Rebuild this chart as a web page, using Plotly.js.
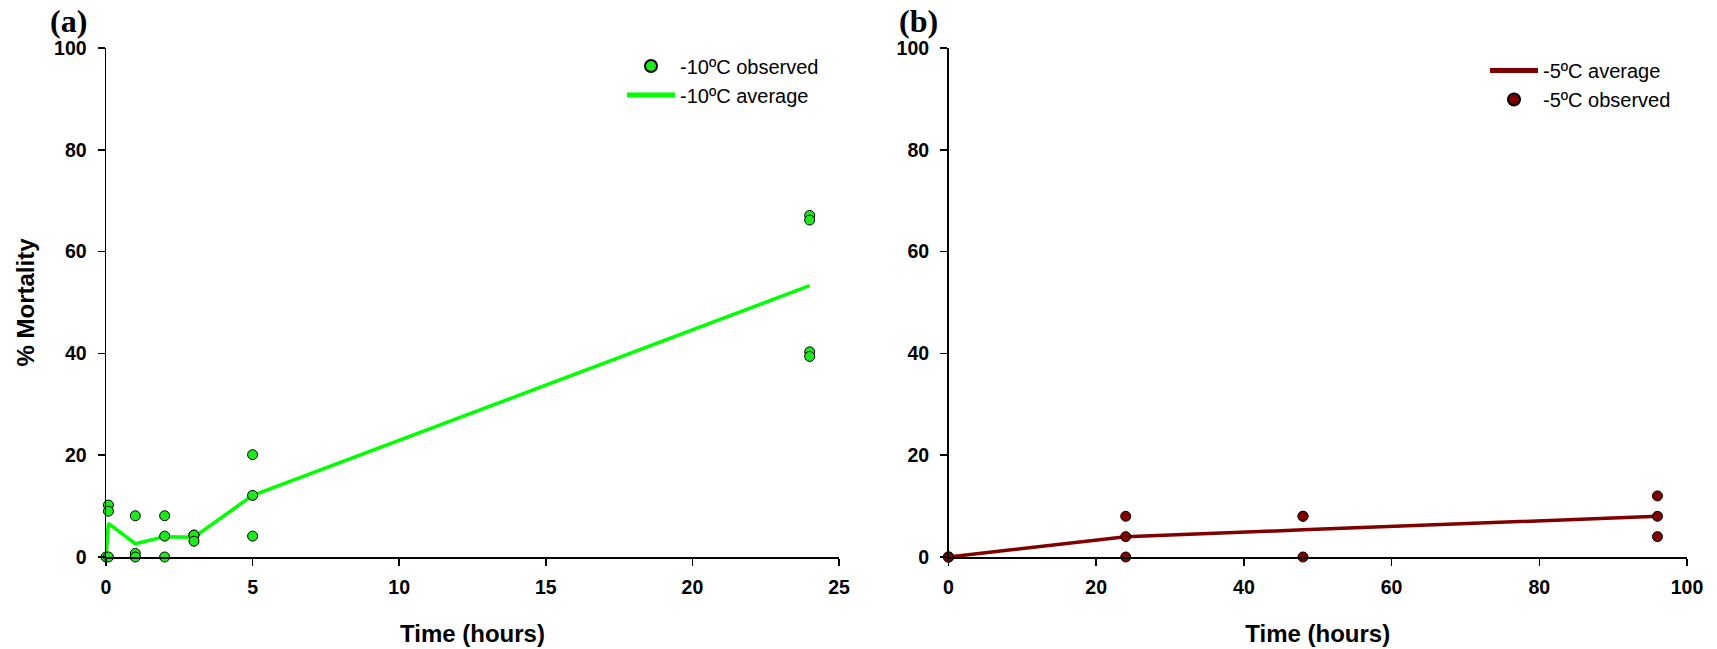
<!DOCTYPE html>
<html>
<head>
<meta charset="utf-8">
<script src="https://cdn.plot.ly/plotly-3.0.1.min.js"></script>
<style>html,body{margin:0;padding:0;background:#fff;}#chart{width:1717px;height:649px;}</style>
</head>
<body>
<div id="chart"></div>
<script>
// Panel (a): -10ºC
const timeA_observed = [0, 0.083, 0.083, 0.083, 1, 1, 1, 2, 2, 2, 3, 3, 3, 5, 5, 5, 24, 24, 24, 24];
const mortA_observed = [0, 0, 10.2, 9.0, 8.1, 0.7, 0, 8.1, 4.1, 0, 4.3, 4.3, 3.1, 20.1, 12.1, 4.1, 67.1, 66.2, 40.3, 39.4];
const timeA_average = [0, 0.083, 1, 2, 3, 5, 24];
const mortA_average = [0, 6.6, 2.6, 4.0, 3.9, 12.1, 53.3];
// Panel (b): -5ºC
const timeB_observed = [0, 0, 0, 24, 24, 24, 48, 48, 48, 96, 96, 96];
const mortB_observed = [0, 0, 0, 8, 4, 0, 8, 8, 0, 12, 8, 4];
const timeB_average = [0, 24, 48, 96];
const mortB_average = [0, 4, 5.33, 8];

const xTicksA = [0, 5, 10, 15, 20, 25];
const xTicksB = [0, 20, 40, 60, 80, 100];
const yTicks = [0, 20, 40, 60, 80, 100];

const GREEN_LINE = '#00ff00';
const GREEN_MARK = '#1ee81e';
const RED = '#800000';
const FONT = 'Arial, "Liberation Sans", sans-serif';
const SERIF = '"Liberation Serif", "Times New Roman", serif';

const traces = [
  {x: timeA_average, y: mortA_average, type: 'scatter', mode: 'lines', name: '-10ºC average',
   line: {color: GREEN_LINE, width: 3.5}, xaxis: 'x', yaxis: 'y', legend: 'legend', legendrank: 2, cliponaxis: false},
  {x: timeA_observed, y: mortA_observed, type: 'scatter', mode: 'markers', name: '-10ºC observed',
   marker: {color: GREEN_MARK, size: 10, line: {color: '#000', width: 1}}, xaxis: 'x', yaxis: 'y', legend: 'legend', legendrank: 1, cliponaxis: false},
  {x: timeB_average, y: mortB_average, type: 'scatter', mode: 'lines', name: '-5ºC average',
   line: {color: RED, width: 3.5}, xaxis: 'x2', yaxis: 'y2', legend: 'legend2', legendrank: 1, cliponaxis: false},
  {x: timeB_observed, y: mortB_observed, type: 'scatter', mode: 'markers', name: '-5ºC observed',
   marker: {color: RED, size: 10, line: {color: '#000', width: 1}}, xaxis: 'x2', yaxis: 'y2', legend: 'legend2', legendrank: 2, cliponaxis: false}
];

const tickFont = {family: FONT, size: 19.5, color: '#000', weight: 'bold'};
const titleFont = {family: FONT, size: 24, color: '#000', weight: 'bold'};

function xAxis(domain, ticks, range) {
  return {domain: domain, range: range, tickvals: ticks, ticktext: ticks.map(String),
    showline: true, linecolor: '#000', linewidth: 1.5, ticks: 'outside', ticklen: 7, tickwidth: 1.5, tickcolor: '#000',
    showgrid: false, zeroline: false, tickfont: tickFont, ticklabelstandoff: 5,
    title: {text: 'Time (hours)', font: titleFont, standoff: 28}, automargin: false, fixedrange: true};
}
function yAxis(domain, anchor, withTitle) {
  return {domain: domain, anchor: anchor, range: [0, 100], tickvals: yTicks, ticktext: yTicks.map(String),
    showline: true, linecolor: '#000', linewidth: 1.5, ticks: 'outside', ticklen: 7, tickwidth: 1.5, tickcolor: '#000',
    showgrid: false, zeroline: false, tickfont: tickFont, ticklabelstandoff: 7,
    title: withTitle ? {text: '% Mortality', font: titleFont, standoff: 12} : {text: ''}, automargin: false, fixedrange: true};
}

const yDom = [92/649, 601/649];
const legendFont = {family: FONT, size: 20, color: '#000'};
const layout = {
  width: 1717, height: 649,
  margin: {l: 0, r: 0, t: 0, b: 0},
  paper_bgcolor: '#fff', plot_bgcolor: '#fff',
  showlegend: true,
  xaxis: Object.assign(xAxis([106/1717, 839/1717], xTicksA, [0, 25]), {anchor: 'y'}),
  yaxis: yAxis(yDom, 'x', true),
  xaxis2: Object.assign(xAxis([948.5/1717, 1687/1717], xTicksB, [0, 100]), {anchor: 'y2'}),
  yaxis2: yAxis(yDom, 'x2', false),
  legend: {x: 622/1717, y: 1 - 46.5/649, xanchor: 'left', yanchor: 'top', bgcolor: 'rgba(0,0,0,0)',
    font: legendFont, tracegroupgap: 0, itemsizing: 'constant', itemwidth: 48},
  legend2: {x: 1485/1717, y: 1 - 51/649, xanchor: 'left', yanchor: 'top', bgcolor: 'rgba(0,0,0,0)',
    font: legendFont, tracegroupgap: 0, itemsizing: 'constant', itemwidth: 48},
  annotations: [
    {text: '(a)', xref: 'paper', yref: 'paper', x: 48/1717, y: 1 - 21/649, xanchor: 'left', yanchor: 'middle',
     showarrow: false, font: {family: SERIF, size: 32, color: '#000', weight: 'bold'}},
    {text: '(b)', xref: 'paper', yref: 'paper', x: 897/1717, y: 1 - 21/649, xanchor: 'left', yanchor: 'middle',
     showarrow: false, font: {family: SERIF, size: 32, color: '#000', weight: 'bold'}}
  ]
};

Plotly.newPlot('chart', traces, layout, {displayModeBar: false, staticPlot: true});
</script>
</body>
</html>
